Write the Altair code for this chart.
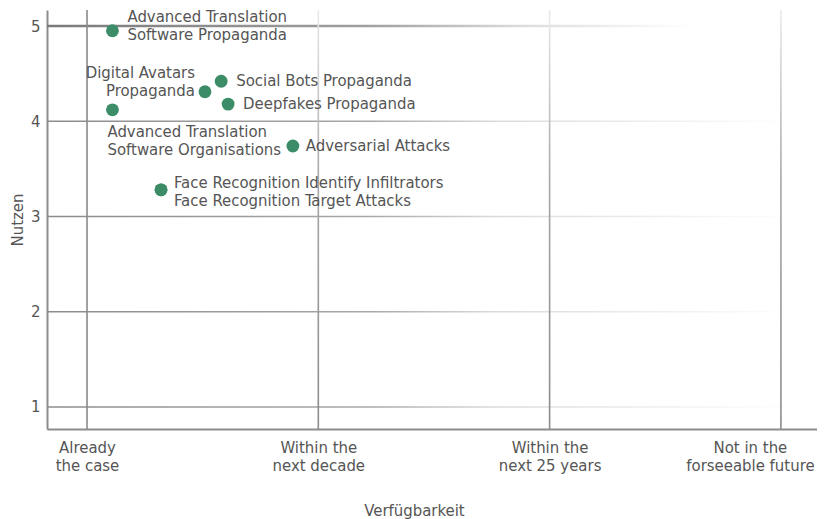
import json
import altair as alt
import pandas as pd

# ---------------- data ----------------
NAMES = [
    "Advanced Translation Software Propaganda",
    "Advanced Translation Software Organisations",
    "Digital Avatars Propaganda",
    "Social Bots Propaganda",
    "Deepfakes Propaganda",
    "Adversarial Attacks",
    "Face Recognition Identify Infiltrators",
    "Face Recognition Target Attacks",
]
LABELS = [
    "Advanced Translation\nSoftware Propaganda",
    "Advanced Translation\nSoftware Organisations",
    "Digital Avatars\nPropaganda",
    "Social Bots Propaganda",
    "Deepfakes Propaganda",
    "Adversarial Attacks",
    "Face Recognition Identify Infiltrators",
    "Face Recognition Target Attacks",
]
AVAILABILITY = [1.11, 1.11, 1.51, 1.58, 1.61, 1.89, 1.32, 1.32]
BENEFIT = [4.95, 4.12, 4.31, 4.42, 4.18, 3.74, 3.28, 3.28]

X_TICKS = [1, 2, 3, 4]
X_TICK_LABELS = [
    ["Already", "the case"],
    ["Within the", "next decade"],
    ["Within the", "next 25 years"],
    ["Not in the", "forseeable future"],
]
Y_TICKS = [1, 2, 3, 4, 5]

X_TITLE = "Verfügbarkeit"
Y_TITLE = "Nutzen"

# ---------------- styles ----------------
FONT = "DejaVu Sans Condensed, Liberation Sans Narrow, sans-serif"
TXT = "#555555"
GREEN = "#3d8c68"
FS = 16.6
XMIN, XMAX = 0.827, 4.156
YMIN, YMAX = 0.769, 5.168
W, H = 770, 419

# label placement per point: align, dx, dy (dy refers to the first line)
LABEL_STYLE = {
    "Advanced Translation Software Propaganda": ("left", 15, -14),
    "Advanced Translation Software Organisations": ("left", -5, 22),
    "Digital Avatars Propaganda": ("right", -10, -19),
    "Social Bots Propaganda": ("left", 15, 0),
    "Deepfakes Propaganda": ("left", 15, 0),
    "Adversarial Attacks": ("left", 13, 0),
    "Face Recognition Identify Infiltrators": ("left", 13, -7),
    "Face Recognition Target Attacks": ("left", 13, 11),
}

points = pd.DataFrame({"name": NAMES, "label": LABELS, "x": AVAILABILITY, "y": BENEFIT})
ygrid = pd.DataFrame({"v": Y_TICKS})
xgrid = pd.DataFrame({"v": X_TICKS})

label_expr = ""
for v, lab in zip(X_TICKS, X_TICK_LABELS):
    label_expr += f"datum.value == {v} ? {json.dumps(lab)} : "
label_expr += "''"

xscale = alt.Scale(domain=[XMIN, XMAX], nice=False, zero=False)
yscale = alt.Scale(domain=[YMIN, YMAX], nice=False, zero=False)

last_tick = f"datum.value == {X_TICKS[-1]}"
x_axis = alt.Axis(
    values=X_TICKS, labelExpr=label_expr, grid=False, ticks=False,
    domain=True, domainColor="#8c8c8c", domainWidth=2,
    labelFont=FONT, labelFontSize=FS, labelColor=TXT, labelPadding=10,
    labelBaseline="top", labelLineHeight=18, labelFlush=False, labelOverlap=False,
    labelAlign="center",
    labelOffset={"condition": {"test": last_tick, "value": -31}, "value": 0},
    title=X_TITLE, titleFont=FONT, titleFontSize=FS, titleFontWeight="normal",
    titleColor=TXT, titleX=367, titleY=81, titleBaseline="middle", titleAlign="center",
)
y_axis = alt.Axis(
    values=Y_TICKS, format="d", grid=False, ticks=False,
    domain=True, domainColor="#8c8c8c", domainWidth=2,
    labelFont=FONT, labelFontSize=FS, labelColor=TXT, labelPadding=7,
    labelFlush=False, labelOverlap=False,
    title=Y_TITLE, titleFont=FONT, titleFontSize=FS, titleFontWeight="normal",
    titleColor=TXT, titleX=-30, titleY=H / 2, titleBaseline="middle",
    titleAlign="center", titleAngle=270,
)

h_grad = alt.Gradient(
    gradient="linear", x1=0, x2=1, y1=0, y2=0,
    stops=[
        alt.GradientStop(offset=0, color="#8c8c8c"),
        alt.GradientStop(offset=0.42, color="#a8a8a8"),
        alt.GradientStop(offset=0.58, color="#dadada"),
        alt.GradientStop(offset=0.97, color="#ffffff"),
    ],
)
top_grad = alt.Gradient(
    gradient="linear", x1=0, x2=1, y1=0, y2=0,
    stops=[
        alt.GradientStop(offset=0, color="#7a7a7a"),
        alt.GradientStop(offset=0.42, color="#a0a0a0"),
        alt.GradientStop(offset=0.62, color="#dddddd"),
        alt.GradientStop(offset=0.84, color="#ffffff"),
    ],
)
v_grad = alt.Gradient(
    gradient="linear", x1=0, x2=0, y1=1, y2=0,
    stops=[
        alt.GradientStop(offset=0, color="#8c8c8c"),
        alt.GradientStop(offset=0.6, color="#a8a8a8"),
        alt.GradientStop(offset=1, color="#ebebeb"),
    ],
)

hgrid = (
    alt.Chart(ygrid)
    .transform_filter(alt.datum.v < 5)
    .transform_calculate(y="datum.v - 0.008", y2="datum.v + 0.008")
    .mark_rect(color=h_grad)
    .encode(x=alt.datum(XMIN, scale=xscale, axis=x_axis), x2=alt.datum(XMAX),
            y=alt.Y("y:Q", scale=yscale, axis=y_axis), y2="y2:Q")
)
hgrid_top = (
    alt.Chart(ygrid)
    .transform_filter(alt.datum.v == 5)
    .transform_calculate(y="datum.v - 0.014", y2="datum.v + 0.014")
    .mark_rect(color=top_grad)
    .encode(x=alt.datum(XMIN), x2=alt.datum(XMAX), y="y:Q", y2="y2:Q")
)
vgrid_first = (
    alt.Chart(xgrid)
    .transform_filter(alt.datum.v == 1)
    .transform_calculate(x="datum.v - 0.0035", x2="datum.v + 0.0035")
    .mark_rect(color="#8c8c8c")
    .encode(x="x:Q", x2="x2:Q", y=alt.datum(YMIN), y2=alt.datum(YMAX))
)
vgrid_rest = (
    alt.Chart(xgrid)
    .transform_filter(alt.datum.v > 1)
    .transform_calculate(x="datum.v - 0.0035", x2="datum.v + 0.0035")
    .mark_rect(color=v_grad)
    .encode(x="x:Q", x2="x2:Q", y=alt.datum(YMIN), y2=alt.datum(YMAX))
)

dots = alt.Chart(points).mark_circle(size=165, color=GREEN, opacity=1).encode(
    x="x:Q", y="y:Q"
)

texts = []
for name, (align, dx, dy) in LABEL_STYLE.items():
    texts.append(
        alt.Chart(points)
        .transform_filter(alt.datum.name == name)
        .mark_text(align=align, baseline="middle", dx=dx, dy=dy, font=FONT,
                   fontSize=FS, color=TXT, lineBreak="\n", lineHeight=18)
        .encode(x="x:Q", y="y:Q", text="label:N")
    )

chart = (
    alt.layer(hgrid, hgrid_top, vgrid_first, vgrid_rest, dots, *texts)
    .properties(
        width=W, height=H,
        autosize=alt.AutoSizeParams(type="none"),
        padding={"left": 39, "top": 2, "right": 0, "bottom": 95},
        background="white",
    )
    .configure_view(stroke=None)
)

chart.save("out.html", embed_options={"renderer": "svg", "actions": False})
